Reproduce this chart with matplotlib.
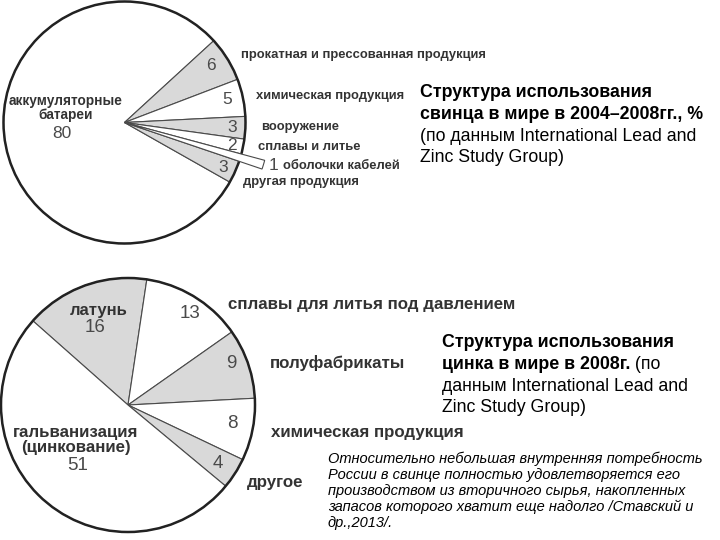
import matplotlib
matplotlib.use("Agg")
import matplotlib.pyplot as plt
from matplotlib.patches import Circle

plt.rcParams['font.family'] = ['Liberation Sans', 'DejaVu Sans']

# --- lead (свинец), 2004-2008, %
lead_labels = ["аккумуляторные\nбатареи", "прокатная и прессованная продукция",
               "химическая продукция", "вооружение", "сплавы и литье",
               "оболочки кабелей", "другая продукция"]
lead_values = [80, 6, 5, 3, 2, 1, 3]

# --- zinc (цинк), 2008, %
zinc_labels = ["латунь", "сплавы для литья под давлением", "полуфабрикаты",
               "химическая продукция", "другое", "гальванизация\n(цинкование)"]
zinc_values = [16, 13, 9, 8, 4, 51]

GRAY = "#d9d9d9"
EDGE = "#4a4a4a"
RIM = "#222222"
LBL = "#333333"
NUM = "#4a4a4a"

W, H = 720, 540
fig = plt.figure(figsize=(7.2, 5.4), dpi=100)


def pie_axes(cx, cy, r):
    # axes sized so that radius 1 == r pixels, centred on (cx, cy) image coords
    ax = fig.add_axes([(cx - r) / W, 1 - (cy + r) / H, 2 * r / W, 2 * r / H])
    ax.axis('off')
    return ax


# top pie
ax1 = pie_axes(124.5, 122.5, 121)
lead_colors = ["white", GRAY, "white", GRAY, "white", "white", GRAY]
w1, _ = ax1.pie(lead_values, colors=lead_colors, startangle=-29.5, counterclock=False,
                wedgeprops=dict(edgecolor=EDGE, linewidth=0.8))
ax1.set_xlim(-1, 1)
ax1.set_ylim(-1, 1)
for w in w1:
    w.set_zorder(1)
    w.set_clip_on(False)
ax1.add_patch(Circle((0, 0), 1, fill=False, edgecolor=RIM, lw=1.8, zorder=2,
                     clip_on=False))
# cable sheath wedge sticks out of the circle
w1[5].set_radius(1.2)
w1[5].set_zorder(3)

# bottom pie
ax2 = pie_axes(128, 405, 127)
zinc_colors = [GRAY, "white", GRAY, "white", GRAY, "white"]
w2, _ = ax2.pie(zinc_values, colors=zinc_colors, startangle=138.5, counterclock=False,
                wedgeprops=dict(edgecolor=EDGE, linewidth=0.8))
ax2.set_xlim(-1, 1)
ax2.set_ylim(-1, 1)
for w in w2:
    w.set_clip_on(False)
ax2.add_patch(Circle((0, 0), 1, fill=False, edgecolor=RIM, lw=1.8, zorder=2,
                     clip_on=False))

# overlay for text in pixel coordinates
ov = fig.add_axes([0, 0, 1, 1], zorder=5)
ov.set_xlim(0, W)
ov.set_ylim(H, 0)
ov.axis('off')

# lead: numbers (centre positions) and category labels (left x, centre y)
lead_num_pos = [(62, 133), (211, 65), (227, 100), (232, 127), (232, 145), (274, 165), (223, 167)]
lead_lbl_pos = [None, (241, 55), (256, 96), (261, 127), (258, 147), (283, 166), (243, 182)]
for v, (x, y) in zip(lead_values, lead_num_pos):
    ov.text(x, y, str(v), fontsize=12.5, color=NUM, ha='center', va='center')
for lab, pos in zip(lead_labels, lead_lbl_pos):
    if pos is None:
        continue
    ov.text(pos[0], pos[1], lab, fontsize=9.4, fontweight='bold', color=LBL,
            ha='left', va='center')
ov.text(66, 108, lead_labels[0], fontsize=9.8, fontweight='bold', color=LBL,
        ha='center', va='center', linespacing=1.05)

# zinc
zinc_num_pos = [(95, 327), (190, 314), (231, 364), (232, 423), (218, 463), (78, 465)]
zinc_lbl_pos = [None, (228, 305), (270, 363), (271, 432), (247, 482), None]
for v, (x, y) in zip(zinc_values, zinc_num_pos):
    ov.text(x, y, str(v), fontsize=13.5, color=NUM, ha='center', va='center')
for lab, pos in zip(zinc_labels, zinc_lbl_pos):
    if pos is None:
        continue
    ov.text(pos[0], pos[1], lab, fontsize=12.2, fontweight='bold', color=LBL,
            ha='left', va='center')
ov.text(99, 310, zinc_labels[0], fontsize=12, fontweight='bold', color=LBL,
        ha='center', va='center')
ov.text(76, 440, zinc_labels[5], fontsize=12.2, fontweight='bold', color=LBL,
        ha='center', va='center', linespacing=1.0)

# titles (one text per line, baseline positions)
TS = 12.8
lead_title = [("Структура использования", 'bold'),
              ("свинца в мире в 2004–2008гг., %", 'bold'),
              ("(по данным International Lead and", 'normal'),
              ("Zinc Study Group)", 'normal')]
for (s, fw), yb in zip(lead_title, [97, 119, 141, 162.5]):
    ov.text(420.5, yb, s, fontsize=TS, fontweight=fw, color='black',
            ha='left', va='baseline')

ov.text(441.5, 347, "Структура использования", fontsize=TS, fontweight='bold',
        color='black', ha='left', va='baseline')
t2 = ov.text(441.5, 369, "цинка в мире в 2008г.", fontsize=TS, fontweight='bold',
             color='black', ha='left', va='baseline')
ov.annotate(" (по", xy=(1, 0), xycoords=t2, fontsize=TS, color='black',
            ha='left', va='bottom')
ov.text(441.5, 391, "данным International Lead and", fontsize=TS, color='black',
        ha='left', va='baseline')
ov.text(441.5, 412, "Zinc Study Group)", fontsize=TS, color='black',
        ha='left', va='baseline')

note = ["Относительно небольшая внутренняя потребность",
        "России в свинце полностью удовлетворяется его",
        "производством из вторичного сырья, накопленных",
        "запасов которого хватит еще надолго /Ставский и",
        "др.,2013/."]
for s, yb in zip(note, [463, 479, 495, 511, 527]):
    ov.text(328, yb, s, fontsize=10.5, style='italic', color='black',
            ha='left', va='baseline')

fig.savefig("out.png", dpi=100)
